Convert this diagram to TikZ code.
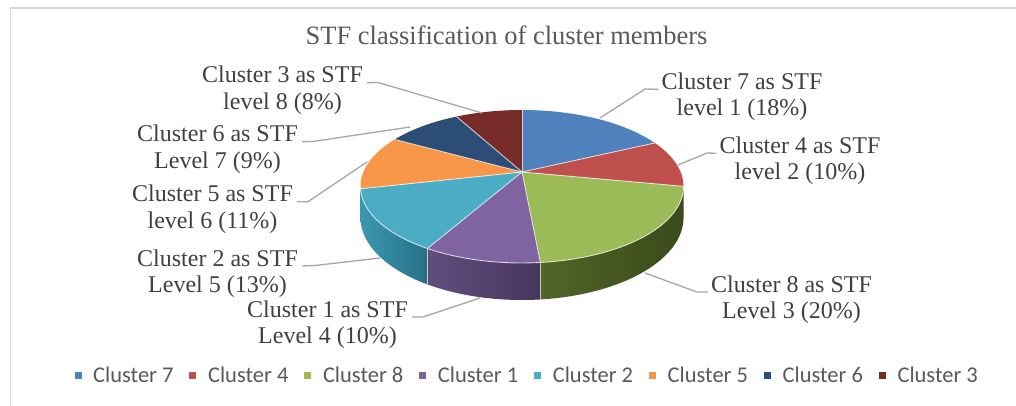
\documentclass[tikz,border=0pt]{standalone}
\usepackage{fontspec}
\setmainfont{Liberation Serif}
\newfontfamily\legendfont{Carlito}
\newcommand\lbltwo[2]{\begin{tabular}[t]{@{}c@{}}#1\\#2\end{tabular}}

% slice colours (top faces)
\definecolor{c7}{HTML}{4F81BD}
\definecolor{c4}{HTML}{C0504D}
\definecolor{c8}{HTML}{9BBB59}
\definecolor{c1}{HTML}{8064A2}
\definecolor{c2}{HTML}{4BACC6}
\definecolor{c5}{HTML}{F79646}
\definecolor{c6}{HTML}{2C4D75}
\definecolor{c3}{HTML}{772C2A}
% side walls
\definecolor{gsideL}{RGB}{82,101,40}
\definecolor{gsideR}{RGB}{58,74,27}
\definecolor{psideL}{RGB}{98,77,126}
\definecolor{psideR}{RGB}{70,54,92}
\definecolor{asideL}{RGB}{60,152,178}
\definecolor{asideR}{RGB}{38,112,134}
\definecolor{osideL}{RGB}{200,118,45}
\definecolor{osideR}{RGB}{190,110,40}
% text and lines
\definecolor{lbltext}{HTML}{404040}
\definecolor{titletext}{HTML}{595959}
\definecolor{legtextc}{HTML}{595959}
\definecolor{leadgrey}{HTML}{A6A6A6}
\definecolor{framegrey}{HTML}{D9D9D9}

\begin{document}
\begin{tikzpicture}[x=1pt,y=-1pt,
  declare function={
    pxa(\t)=522+158.6*sin(\t)/(1+0.1895*cos(\t));
    pya(\t)=172-73.75*cos(\t)/(1+0.1895*cos(\t));
    pdz(\t)=30/(1+0.1895*cos(\t));
  },
  lbl/.style={font=\fontsize{24}{26.7}\selectfont, text=lbltext, inner sep=0pt, anchor=base},
  leader/.style={draw=leadgrey, line width=1.3pt},
  rimline/.style={draw=white, line width=0.9pt, draw opacity=0.7},
  legtext/.style={font=\legendfont\fontsize{22.5}{27}\selectfont, text=legtextc, inner sep=0pt, anchor=base west},
  legbox/.style={fill=#1, minimum size=7pt, inner sep=0pt},
]
\useasboundingbox (0,0) rectangle (1016,406);
\fill[white] (0,0) rectangle (1016,406);
\draw[framegrey, line width=1.5pt] (10.5,406) -- (10.5,8) -- (1016,8);

% title
\node[font=\fontsize{26.5}{30}\selectfont, text=titletext, inner sep=0pt, anchor=base] (title) at (506.5,45) {STF classification of cluster members};

\coordinate (apex) at (522,172);

% visible side walls of the pie
\foreach \a/\b/\l/\r in {100.9/174.6/gsideL/gsideR, 174.6/209.9/psideL/psideR, 209.9/257.4/asideL/asideR, 257.4/259.1/osideL/osideR}
  \shade[left color=\l, right color=\r]
    plot[variable=\t, domain=\a:\b, samples=40] ({pxa(\t)},{pya(\t)})
    -- plot[variable=\t, domain=\b:\a, samples=40] ({pxa(\t)},{pya(\t)+pdz(\t)}) -- cycle;
\foreach \a in {174.6,209.9}
  \draw[rimline] ({pxa(\a)},{pya(\a)}) -- ({pxa(\a)},{pya(\a)+pdz(\a)});

% top faces
\foreach \a/\b/\c in {0/64.8/c7, 64.8/100.8/c4, 100.8/174.6/c8, 174.6/209.9/c1, 209.9/257.4/c2, 257.4/298.8/c5, 298.8/331.2/c6, 331.2/360/c3}
  \fill[\c] (apex) -- plot[variable=\t, domain=\a:\b, samples=40] ({pxa(\t)},{pya(\t)}) -- cycle;
\foreach \a in {0,64.8,100.8,174.6,209.9,257.4,298.8,331.2}
  \draw[rimline] (apex) -- ({pxa(\a)},{pya(\a)});
\draw[rimline] plot[variable=\t, domain=100.9:259.1, samples=80] ({pxa(\t)},{pya(\t)});

% data labels
\node[lbl] (l7) at (742,89.3)   {\lbltwo{Cluster 7 as STF}{level 1 (18\%)}};
\node[lbl] (l4) at (800,153.3)  {\lbltwo{Cluster 4 as STF}{level 2 (10\%)}};
\node[lbl] (l8) at (791.5,292)  {\lbltwo{Cluster 8 as STF}{Level 3 (20\%)}};
\node[lbl] (l1) at (327.5,317)  {\lbltwo{Cluster 1 as STF}{Level 4 (10\%)}};
\node[lbl] (l2) at (217.5,266)  {\lbltwo{Cluster 2 as STF}{Level 5 (13\%)}};
\node[lbl] (l5) at (212.5,201.7){\lbltwo{Cluster 5 as STF}{level 6 (11\%)}};
\node[lbl] (l6) at (217.5,141.7){\lbltwo{Cluster 6 as STF}{Level 7 (9\%)}};
\node[lbl] (l3) at (282.5,82.7) {\lbltwo{Cluster 3 as STF}{level 8 (8\%)}};

% leader lines
\coordinate (k7) at (645,89);    \coordinate (p7) at (600,118);
\coordinate (k4) at (707,153);   \coordinate (p4) at (678,165);
\coordinate (k8) at (697,292);   \coordinate (p8) at (645,273);
\coordinate (k1) at (423,317);   \coordinate (p1) at (480,298);
\coordinate (k2) at (315,265.5); \coordinate (p2) at (380,258);
\coordinate (k5) at (308,201.7); \coordinate (p5) at (367,162);
\coordinate (k6) at (313,141.5); \coordinate (p6) at (410,127);
\coordinate (k3) at (378,82.5);  \coordinate (p3) at (482,113);
\foreach \n in {7,4,8}
  \draw[leader] ([xshift=-3pt]l\n.base west) -- (k\n) -- (p\n);
\foreach \n in {1,2,5,6,3}
  \draw[leader] ([xshift=4pt]l\n.base east) -- (k\n) -- (p\n);

% legend
\foreach \i/\c/\n in {0/c7/7,1/c4/4,2/c8/8,3/c1/1,4/c2/2,5/c5/5,6/c6/6,7/c3/3} {
  \node[legtext] (leg\n) at ({93+114.9*\i},382) {Cluster \n};
  \node[legbox=\c] (mk\n) at ({78+114.9*\i},375) {};
}
\end{tikzpicture}
\end{document}
